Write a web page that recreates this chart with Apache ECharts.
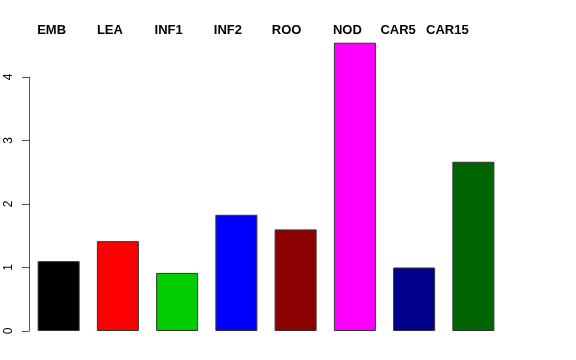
<!DOCTYPE html>
<html>
<head>
<meta charset="utf-8">
<script src="https://cdn.jsdelivr.net/npm/echarts@6/dist/echarts.min.js"></script>
<style>
html,body{margin:0;padding:0;background:#fff;}
#chart{width:576px;height:360px;}
</style>
</head>
<body>
<div id="chart"></div>
<script>
var categories = ['EMB', 'LEA', 'INF1', 'INF2', 'ROO', 'NOD', 'CAR5', 'CAR15'];
var values = [1.10, 1.415, 0.915, 1.83, 1.60, 4.54, 1.00, 2.665];
var barColors = ['#000000', '#FF0000', '#00CD00', '#0000FF', '#8B0000', '#FF00FF', '#00008B', '#006400'];
var yTicks = [0, 1, 2, 3, 4];

// horizontal offsets (px) of the header labels relative to their bar centres
var headerShift = [-7, -8, -8.5, -8.5, -9, -7.5, -16, -26];

var chart = echarts.init(document.getElementById('chart'), null, {renderer: 'canvas'});

var gridLeft = 29, gridRight = 73, gridTop = 77, gridBottom = 29;

var option = {
  animation: false,
  backgroundColor: '#ffffff',
  grid: {left: gridLeft, right: gridRight, top: gridTop, bottom: gridBottom, containLabel: false},
  xAxis: [{
    type: 'category',
    data: categories,
    show: false
  }],
  yAxis: {
    type: 'value',
    min: yTicks[0],
    max: yTicks[yTicks.length - 1],
    interval: 1,
    axisLine: {show: true, lineStyle: {color: '#555555', width: 1}},
    axisTick: {show: true, length: 7, lineStyle: {color: '#555555', width: 1}},
    axisLabel: {
      rotate: 90,
      margin: 14,
      color: '#000000',
      fontFamily: 'Liberation Sans, Arial, sans-serif',
      fontSize: 12
    },
    splitLine: {show: false}
  },
  series: [{
    type: 'bar',
    clip: false,
    barWidth: 42,
    data: values.map(function (v, i) {
      return {value: v, itemStyle: {color: barColors[i]}};
    }),
    itemStyle: {borderColor: '#333333', borderWidth: 1}
  }]
};
chart.setOption(option);

// header labels above the bars, anchored to each bar's centre via the axis scale
var graphics = categories.map(function (c, i) {
  var px = chart.convertToPixel({xAxisIndex: 0}, c);
  return {
    type: 'text',
    x: px + headerShift[i],
    y: 30,
    style: {
      text: c,
      fill: '#000000',
      font: 'bold 13px "Liberation Sans", Arial, sans-serif',
      textAlign: 'center',
      textVerticalAlign: 'middle'
    }
  };
});
chart.setOption({graphic: graphics});
</script>
</body>
</html>
